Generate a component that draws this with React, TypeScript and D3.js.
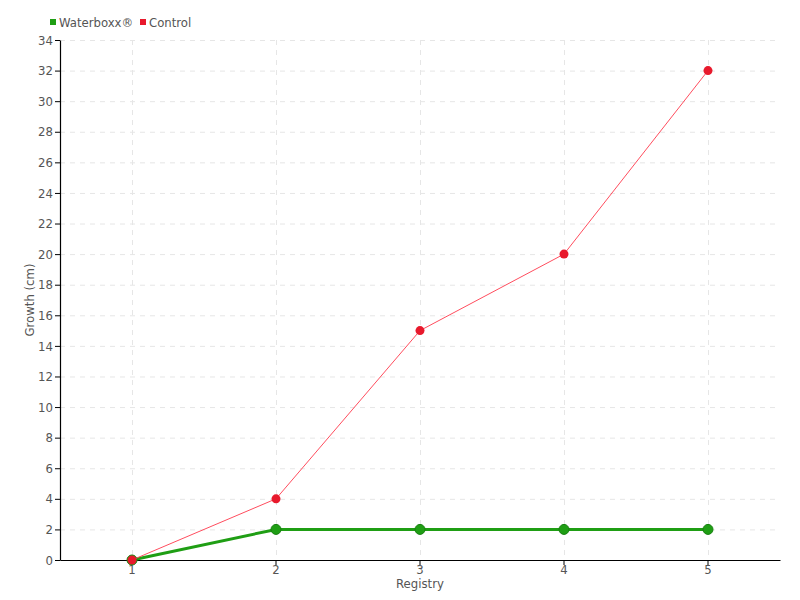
import React, { useRef, useEffect } from "react";
import * as d3 from "d3";

const registries = ["1", "2", "3", "4", "5"];
const waterboxx = [0, 2, 2, 2, 2];
const control = [0, 4, 15, 20, 32];
const yTicks = d3.range(0, 35, 2);

const FONT = "'DejaVu Sans', sans-serif";

export default function App() {
  const ref = useRef<SVGSVGElement>(null);

  useEffect(() => {
    const svg = d3.select(ref.current);
    svg.selectAll("*").remove();

    const margin = { top: 40, right: 20, bottom: 40, left: 60 };
    const width = 800 - margin.left - margin.right;
    const height = 600 - margin.top - margin.bottom;

    const x = d3.scaleBand().domain(registries).range([0, width]);
    const cx = (d: string) => (x(d) ?? 0) + x.bandwidth() / 2;
    const y = d3.scaleLinear().domain([0, 34]).range([height, 0]);

    const styleText = (sel: any) =>
      sel
        .attr("fill", "#555")
        .style("font-family", FONT)
        .style("font-stretch", "condensed")
        .style("font-size", "13px");

    const g = svg
      .append("g")
      .attr("transform", `translate(${margin.left},${margin.top})`);

    // grid
    g.selectAll(".hgrid")
      .data(yTicks)
      .join("line")
      .attr("x1", 0)
      .attr("x2", width)
      .attr("y1", (d) => y(d) + 0.5)
      .attr("y2", (d) => y(d) + 0.5)
      .attr("stroke", "#e6e6e6")
      .attr("stroke-dasharray", "5,5");
    g.selectAll(".vgrid")
      .data(registries)
      .join("line")
      .attr("x1", (d) => cx(d) + 0.5)
      .attr("x2", (d) => cx(d) + 0.5)
      .attr("y1", 0)
      .attr("y2", height)
      .attr("stroke", "#e6e6e6")
      .attr("stroke-dasharray", "5,5");

    // axes
    const yAxis = g
      .append("g")
      .call(d3.axisLeft(y).tickValues(yTicks).tickSize(5).tickSizeOuter(0).tickPadding(2));
    const xAxis = g
      .append("g")
      .attr("transform", `translate(0,${height})`)
      .call(d3.axisBottom(x).tickSize(5).tickSizeOuter(0).tickPadding(0));
    [xAxis, yAxis].forEach((a) => {
      a.select(".domain").attr("stroke", "#000").attr("stroke-width", 1.2);
      a.selectAll(".tick line").attr("stroke", "#000");
      styleText(a.selectAll(".tick text"));
    });

    // axis titles
    styleText(
      g
        .append("text")
        .attr("x", width / 2)
        .attr("y", height + 28)
        .attr("text-anchor", "middle")
        .text("Registry")
    );
    styleText(
      g
        .append("text")
        .attr("transform", `translate(-26,${height / 2}) rotate(-90)`)
        .attr("text-anchor", "middle")
        .text("Growth (cm)")
    );

    const line = d3
      .line<number>()
      .x((_, i) => cx(registries[i]))
      .y((d) => y(d));

    // Waterboxx series
    g.append("path")
      .datum(waterboxx)
      .attr("fill", "none")
      .attr("stroke", "#1f9e14")
      .attr("stroke-width", 3)
      .attr("d", line);
    g.selectAll(".wb")
      .data(waterboxx)
      .join("circle")
      .attr("cx", (_, i) => cx(registries[i]))
      .attr("cy", (d) => y(d))
      .attr("r", 5)
      .attr("fill", "#1f9e14")
      .attr("stroke", "#178010")
      .attr("stroke-width", 1);

    // Control series
    g.append("path")
      .datum(control)
      .attr("fill", "none")
      .attr("stroke", "#ff4d5e")
      .attr("stroke-width", 1)
      .attr("d", line);
    g.selectAll(".ct")
      .data(control)
      .join("circle")
      .attr("cx", (_, i) => cx(registries[i]))
      .attr("cy", (d) => y(d))
      .attr("r", 4.5)
      .attr("fill", "#e8192c");

    // legend
    const legend = svg.append("g").attr("transform", "translate(50,22)");
    const items = [
      { name: "Waterboxx®", color: "#1f9e14", x: 0 },
      { name: "Control", color: "#e8192c", x: 90 },
    ];
    items.forEach((it) => {
      legend
        .append("rect")
        .attr("x", it.x)
        .attr("y", -3)
        .attr("width", 6)
        .attr("height", 6)
        .attr("fill", it.color);
      styleText(
        legend
          .append("text")
          .attr("x", it.x + 9)
          .attr("y", 5)
          .text(it.name)
      );
    });
  }, []);

  return (
    <svg
      ref={ref}
      width={800}
      height={600}
      style={{ position: "absolute", left: 0, top: 0, background: "#fff" }}
    />
  );
}
